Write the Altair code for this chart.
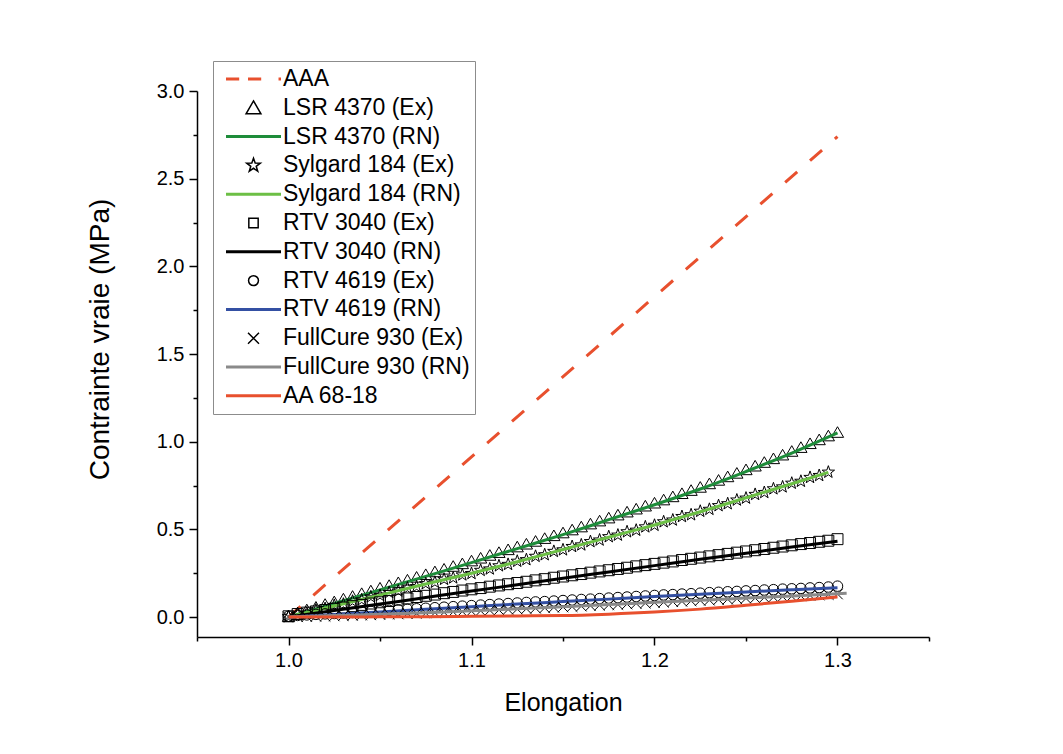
import altair as alt
import pandas as pd

# ---------------- data ----------------
ELONG_EX = [1.000, 1.005, 1.010, 1.015, 1.020, 1.025, 1.030, 1.035, 1.040, 1.045,
            1.050, 1.055, 1.060, 1.065, 1.070, 1.075, 1.080, 1.085, 1.090, 1.095,
            1.100, 1.105, 1.110, 1.115, 1.120, 1.125, 1.130, 1.135, 1.140, 1.145,
            1.150, 1.155, 1.160, 1.165, 1.170, 1.175, 1.180, 1.185, 1.190, 1.195,
            1.200, 1.205, 1.210, 1.215, 1.220, 1.225, 1.230, 1.235, 1.240, 1.245,
            1.250, 1.255, 1.260, 1.265, 1.270, 1.275, 1.280, 1.285, 1.290, 1.295,
            1.300]
ELONG_RN = [1.000, 1.025, 1.050, 1.075, 1.100, 1.125, 1.150, 1.175, 1.200,
            1.225, 1.250, 1.275, 1.300]
SYL_RN_X = [1.000, 1.025, 1.050, 1.075, 1.100, 1.125, 1.150, 1.175, 1.200,
            1.225, 1.250, 1.275, 1.295]
FC_RN_X = [1.000, 1.025, 1.050, 1.075, 1.100, 1.125, 1.150, 1.175, 1.200,
           1.225, 1.250, 1.275, 1.300, 1.305]

AAA_X = [1.0, 1.3]
AAA_Y = [0.0, 2.74]

LSR_EX = [0.005, 0.026, 0.043, 0.058, 0.074, 0.089, 0.105, 0.120, 0.136, 0.151,
          0.167, 0.182, 0.198, 0.213, 0.229, 0.244, 0.260, 0.275, 0.291, 0.306,
          0.322, 0.338, 0.354, 0.370, 0.386, 0.402, 0.418, 0.434, 0.450, 0.466,
          0.482, 0.499, 0.516, 0.533, 0.550, 0.567, 0.584, 0.601, 0.618, 0.635,
          0.652, 0.670, 0.688, 0.706, 0.724, 0.742, 0.762, 0.782, 0.802, 0.822,
          0.842, 0.863, 0.884, 0.905, 0.926, 0.947, 0.969, 0.991, 1.013, 1.035,
          1.055]
LSR_RN = [0.0, 0.077, 0.155, 0.232, 0.310, 0.390, 0.470, 0.555, 0.640, 0.730,
          0.830, 0.935, 1.050]

SYL_EX = [0.002, 0.016, 0.022, 0.040, 0.048, 0.066, 0.073, 0.090, 0.098, 0.115,
          0.123, 0.140, 0.148, 0.165, 0.173, 0.190, 0.198, 0.215, 0.223, 0.240,
          0.248, 0.266, 0.274, 0.292, 0.300, 0.318, 0.327, 0.346, 0.355, 0.374,
          0.383, 0.402, 0.411, 0.430, 0.439, 0.458, 0.467, 0.486, 0.495, 0.514,
          0.523, 0.543, 0.553, 0.573, 0.583, 0.603, 0.614, 0.635, 0.646, 0.667,
          0.678, 0.699, 0.710, 0.731, 0.742, 0.763, 0.774, 0.796, 0.807, 0.826]
SYL_RN = [0.0, 0.063, 0.125, 0.188, 0.250, 0.315, 0.385, 0.455, 0.525, 0.600,
          0.680, 0.760, 0.825]

RTV3040_EX = [0.004, 0.017, 0.025, 0.032, 0.040, 0.047, 0.054, 0.062, 0.069, 0.077,
              0.084, 0.091, 0.099, 0.106, 0.114, 0.121, 0.128, 0.136, 0.143, 0.151,
              0.158, 0.165, 0.173, 0.180, 0.187, 0.194, 0.201, 0.209, 0.216, 0.224,
              0.231, 0.238, 0.245, 0.253, 0.260, 0.267, 0.274, 0.281, 0.289, 0.296,
              0.303, 0.310, 0.317, 0.325, 0.332, 0.339, 0.346, 0.353, 0.360, 0.367,
              0.374, 0.381, 0.388, 0.395, 0.402, 0.409, 0.416, 0.422, 0.429, 0.435,
              0.444]
RTV3040_RN = [0.0, 0.037, 0.074, 0.111, 0.148, 0.184, 0.221, 0.257, 0.293, 0.329,
              0.364, 0.399, 0.432]

RTV4619_EX = [0.004, 0.009, 0.012, 0.015, 0.018, 0.020, 0.023, 0.026, 0.029, 0.032,
              0.035, 0.038, 0.041, 0.044, 0.047, 0.050, 0.053, 0.056, 0.059, 0.062,
              0.065, 0.068, 0.071, 0.074, 0.077, 0.080, 0.083, 0.086, 0.088, 0.091,
              0.094, 0.097, 0.100, 0.102, 0.105, 0.108, 0.111, 0.114, 0.117, 0.120,
              0.123, 0.126, 0.128, 0.131, 0.133, 0.136, 0.139, 0.141, 0.144, 0.146,
              0.149, 0.151, 0.154, 0.156, 0.159, 0.161, 0.163, 0.166, 0.168, 0.171,
              0.176]
RTV4619_RN = [0.0, 0.014, 0.029, 0.044, 0.059, 0.074, 0.088, 0.102, 0.117, 0.130,
              0.143, 0.155, 0.167]

FC_EX = [0.000, 0.001, 0.002, 0.004, 0.004, 0.006, 0.008, 0.009, 0.011, 0.012,
         0.014, 0.016, 0.017, 0.020, 0.021, 0.023, 0.025, 0.027, 0.029, 0.031,
         0.033, 0.035, 0.038, 0.040, 0.043, 0.045, 0.047, 0.050, 0.052, 0.055,
         0.057, 0.059, 0.062, 0.064, 0.067, 0.069, 0.071, 0.074, 0.077, 0.079,
         0.082, 0.084, 0.087, 0.089, 0.092, 0.094, 0.096, 0.099, 0.101, 0.104,
         0.106, 0.108, 0.111, 0.113, 0.116, 0.118, 0.120, 0.123, 0.125, 0.128,
         0.131]
FC_RN = [0.0, 0.008, 0.016, 0.025, 0.035, 0.047, 0.059, 0.071, 0.084, 0.096,
         0.108, 0.120, 0.132, 0.135]

AA_RN = [0.0, 0.0, 0.001, 0.002, 0.004, 0.006, 0.008, 0.016, 0.028, 0.045,
         0.067, 0.090, 0.115]

LABELS = ["AAA", "LSR 4370 (Ex)", "LSR 4370 (RN)", "Sylgard 184 (Ex)",
          "Sylgard 184 (RN)", "RTV 3040 (Ex)", "RTV 3040 (RN)", "RTV 4619 (Ex)",
          "RTV 4619 (RN)", "FullCure 930 (Ex)", "FullCure 930 (RN)", "AA 68-18"]

# ---------------- styles ----------------
RED = "#e8502e"
DKGREEN = "#1e8c3a"
LTGREEN = "#6cbf45"
BLUE = "#3450a3"
GRAY = "#8a8a8a"
BLACK = "#000000"

STAR = ("M0,-1L0.235,-0.324L0.951,-0.309L0.380,0.124L0.588,0.809L0,0.4"
        "L-0.588,0.809L-0.380,0.124L-0.951,-0.309L-0.235,-0.324Z")
XMARK = "M-1,-1L1,1M-1,1L1,-1"

# legend symbols (drawn in a 55px box); lines made of 3 stacked strokes
LG_LINE = "M-1,-0.028H1M-1,0H1M-1,0.028H1"
LG_DASH = ("M-1,-0.028H-0.52M-1,0H-0.52M-1,0.028H-0.52"
           "M-0.2,-0.028H0.28M-0.2,0H0.28M-0.2,0.028H0.28"
           "M0.91,-0.028H1M0.91,0H1M0.91,0.028H1")
LG_TRI = "M0,-0.25L0.27,0.22L-0.27,0.22Z"
LG_STAR = ("M0,-0.26L0.061,-0.084L0.247,-0.080L0.099,0.032L0.153,0.210L0,0.104"
           "L-0.153,0.210L-0.099,0.032L-0.247,-0.080L-0.061,-0.084Z")
LG_SQ = "M-0.17,-0.17H0.17V0.17H-0.17Z"
LG_CIRC = "M0.18,0A0.18,0.18,0,1,1,-0.18,0A0.18,0.18,0,1,1,0.18,0Z"
LG_X = "M-0.2,-0.2L0.2,0.2M-0.2,0.2L0.2,-0.2"

LEG_COLORS = [RED, BLACK, DKGREEN, BLACK, LTGREEN, BLACK, BLACK, BLACK, BLUE,
              BLACK, GRAY, RED]
LEG_SHAPES = [LG_DASH, LG_TRI, LG_LINE, LG_STAR, LG_LINE, LG_SQ, LG_LINE,
              LG_CIRC, LG_LINE, LG_X, LG_LINE, LG_LINE]

FONT = "Liberation Sans"


def frame(xs, ys):
    pairs = list(zip(xs, ys))
    return pd.DataFrame({"x": [p[0] for p in pairs], "y": [p[1] for p in pairs]})


major_x = "abs(datum.value*10 - round(datum.value*10)) < 1e-6"
major_y = "abs(datum.value*2 - round(datum.value*2)) < 1e-6"

X = alt.X(
    "x:Q",
    scale=alt.Scale(domain=[0.95, 1.35], nice=False, zero=False),
    axis=alt.Axis(
        title="Elongation",
        values=[0.95, 1.0, 1.05, 1.1, 1.15, 1.2, 1.25, 1.3, 1.35],
        labelExpr=f"{major_x} ? format(datum.value, '.1f') : ''",
        tickSize={"condition": {"test": major_x, "value": 8}, "value": 4},
        grid=False,
        titlePadding=20,
        titleFontSize=25,
        labelPadding=5,
    ),
)
Y = alt.Y(
    "y:Q",
    scale=alt.Scale(domain=[-0.114, 3.0], nice=False, zero=False),
    axis=alt.Axis(
        title="Contrainte vraie (MPa)",
        values=[0, 0.25, 0.5, 0.75, 1.0, 1.25, 1.5, 1.75, 2.0, 2.25, 2.5, 2.75, 3.0],
        labelExpr=f"{major_y} ? format(datum.value, '.1f') : ''",
        tickSize={"condition": {"test": major_y, "value": 8}, "value": 4},
        grid=False,
        titlePadding=42,
        titleFontSize=28,
        titleY=248,
        labelPadding=5,
    ),
)


def line(xs, ys, color, dash=None):
    kw = dict(color=color, strokeWidth=3, interpolate="monotone", clip=True)
    if dash:
        kw["strokeDash"] = dash
    return alt.Chart(frame(xs, ys)).mark_line(**kw).encode(x=X, y=Y)


def pts(ys, shape, size):
    return alt.Chart(frame(ELONG_EX, ys)).mark_point(
        shape=shape, size=size, filled=False, color=BLACK, strokeWidth=1, opacity=1
    ).encode(x=X, y=Y)


legend_df = pd.DataFrame({"series": LABELS, "x": [None] * len(LABELS),
                          "y": [None] * len(LABELS)})
legend_layer = alt.Chart(legend_df).mark_point(filled=False, opacity=1).encode(
    x=X,
    y=Y,
    color=alt.Color(
        "series:N",
        scale=alt.Scale(domain=LABELS, range=LEG_COLORS),
        legend=alt.Legend(
            title=None,
            orient="none",
            legendX=16,
            legendY=-30,
            direction="vertical",
            labelFont=FONT,
            labelFontSize=23,
            labelColor="black",
            labelOffset=1,
            labelLimit=400,
            symbolSize=3025,
            symbolStrokeWidth=1.5,
            symbolOpacity=1,
            symbolOffset=7,
            clipHeight=26,
            rowPadding=2.8,
            padding=5,
            strokeColor="#8c8c8c",
            fillColor="white",
        ),
    ),
    shape=alt.Shape("series:N", scale=alt.Scale(domain=LABELS, range=LEG_SHAPES),
                    legend=None),
)

layers = [
    line(AAA_X, AAA_Y, RED, dash=[16, 17]),
    pts(LSR_EX, "triangle-up", 150),
    line(ELONG_RN, LSR_RN, DKGREEN),
    pts(SYL_EX, STAR, 170),
    line(SYL_RN_X, SYL_RN, LTGREEN),
    pts(RTV3040_EX, "square", 120),
    line(ELONG_RN, RTV3040_RN, BLACK),
    pts(RTV4619_EX, "circle", 110),
    line(ELONG_RN, RTV4619_RN, BLUE),
    pts(FC_EX, XMARK, 110),
    line(FC_RN_X, FC_RN, GRAY),
    line(ELONG_RN, AA_RN, RED),
    legend_layer,
]

chart = alt.layer(*layers).properties(
    width=732,
    height=546,
    autosize=alt.AutoSizeParams(type="none"),
    padding={"left": 189, "top": 83, "right": 110, "bottom": 105},
    background="white",
).configure_view(strokeWidth=0).configure_axis(
    domainColor="black",
    domainWidth=1.5,
    tickColor="black",
    tickWidth=1.5,
    labelFont=FONT,
    labelFontSize=20,
    labelColor="black",
    titleFont=FONT,
    titleFontWeight="normal",
    titleColor="black",
)

chart.save("out.html", embed_options={"renderer": "svg", "actions": False})
